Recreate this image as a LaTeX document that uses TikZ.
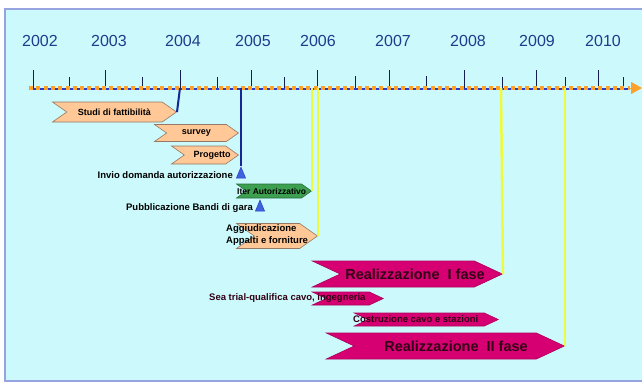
\documentclass[tikz,border=0pt]{standalone}
\usepackage{fontspec}
\setmainfont{Liberation Sans}
\usetikzlibrary{shapes.symbols,shapes.geometric,arrows.meta}

\definecolor{skyback}{RGB}{204,250,252}
\definecolor{frameblue}{RGB}{150,165,225}
\definecolor{yearblue}{RGB}{30,60,140}
\definecolor{tickblue}{RGB}{20,30,80}
\definecolor{axorange}{RGB}{255,160,40}
\definecolor{axblue}{RGB}{40,60,200}
\definecolor{barpeach}{RGB}{255,200,150}
\definecolor{peachedge}{RGB}{150,120,100}
\definecolor{bargreen}{RGB}{60,160,80}
\definecolor{greenedge}{RGB}{40,110,60}
\definecolor{barmagenta}{RGB}{215,0,115}
\definecolor{magentaedge}{RGB}{170,0,90}
\definecolor{textdark}{RGB}{50,0,20}
\definecolor{milestone}{RGB}{240,250,60}
\definecolor{linkblue}{RGB}{20,40,150}
\definecolor{triblue}{RGB}{60,100,220}

\tikzset{
  yearlbl/.style={text=yearblue, font=\fontsize{16}{19}\selectfont},
  tick/.style={tickblue, line width=1pt},
  bar/.style={signal, signal from=west, signal to=east, inner sep=0pt, anchor=east,
    font=\bfseries\fontsize{9}{10}\selectfont},
  peachbar/.style={bar, fill=barpeach, draw=peachedge, line width=0.6pt, signal pointer angle=70},
  greenbar/.style={bar, fill=bargreen, draw=greenedge, line width=0.6pt, signal pointer angle=70},
  pinkbar/.style={bar, fill=barmagenta, draw=magentaedge, line width=0.6pt, signal pointer angle=50,
    text=textdark},
  biglbl/.style={font=\bfseries\fontsize{14.5}{16}\selectfont, inner sep=0pt, text=textdark},
  lbl/.style={font=\bfseries\fontsize{9.5}{12}\selectfont, inner sep=0pt},
  smalllbl/.style={font=\bfseries\fontsize{9.5}{10}\selectfont, inner sep=0pt, text=textdark},
  tri/.style={isosceles triangle, shape border rotate=90, isosceles triangle apex angle=45,
    minimum height=11, inner sep=0pt, fill=triblue, draw=axblue, line width=0.5pt},
  yelline/.style={milestone, line width=2.5pt},
  blueline/.style={linkblue, line width=2pt},
}

\begin{document}
\begin{tikzpicture}[x=1pt, y=-1pt]
    \useasboundingbox (0,0) rectangle (642,383);

    % frame
    \fill[white] (0,0) rectangle (642,383);
    \draw[fill=skyback, draw=frameblue, line width=2pt] (5,9) rectangle (660,381);

    % years
    \foreach \yr/\x in {2002/40, 2003/109, 2004/183, 2005/253, 2006/318, 2007/393, 2008/468, 2009/537, 2010/603}
        \node[yearlbl] (y\yr) at (\x,41) {\yr};

    % ticks
    \foreach \x/\t in {33/70, 69/77, 105/70, 142/77, 180/70, 217/77, 251/70, 284/77, 317/70,
                       355/76, 389/70, 426/76, 464/70, 502/77, 536/70, 565/77, 598/70, 623/77}
        \draw[tick] (\x,\t) -- (\x,88);

    % time axis
    \coordinate (axL) at (29,88);
    \coordinate (axR) at (630,88);
    \coordinate (axEnd) at (642,88);
    \draw[axorange, line width=4pt, dash pattern=on 4pt off 3.3pt] (axL) -- (axR);
    \draw[axblue, line width=2pt, dash pattern=on 3.3pt off 4pt, dash phase=-4pt] ([yshift=-1pt]axL) -- ([yshift=-1pt]axR);
    \draw[axorange, line width=1pt, -{Triangle[length=11pt, width=12pt]}] (axR) -- (axEnd);

    % start points on the axis
    \coordinate (m2004) at (180,88);
    \coordinate (m2005) at (241,88);
    \coordinate (mIter) at (312,88);
    \coordinate (mAgg) at (318,88);
    \coordinate (mReal1) at (501,88);
    \coordinate (mReal2) at (565,88);

    % activities
    \node[peachbar, minimum width=124, minimum height=20] (studi) at (177,112) {Studi di fattibilità};
    \node[peachbar, minimum width=84, minimum height=17] (survey) at (239,133) {survey};
    \node[peachbar, minimum width=67, minimum height=18] (progetto) at (239,155) {};
    \node[lbl, font=\bfseries\fontsize{9}{10}\selectfont] (progettolbl) at (212,155) {Progetto};

    \node[lbl, anchor=east] (invio) at (233,175) {Invio domanda autorizzazione};
    \node[tri] (invioTri) at (241,175) {};

    \node[greenbar, minimum width=75, minimum height=14] (iter) at (312,191) {};
    \node[lbl, anchor=west, font=\bfseries\fontsize{8.5}{10}\selectfont] (iterlbl) at (237,191) {Iter Autorizzativo};

    \node[lbl, anchor=east] (pubbl) at (253,208) {Pubblicazione Bandi di gara};
    \node[tri] (pubblTri) at (260,208) {};

    \node[peachbar, minimum width=81, minimum height=25] (agg) at (318,236) {};
    \node[lbl, anchor=west, align=left] (agglbl) at (226,235) {Aggiudicazione\\Appalti e forniture};

    \node[pinkbar, minimum width=190, minimum height=26] (real1) at (503,274) {};
    \node[biglbl] (real1lbl) at (415,274) {Realizzazione\ \ I fase};
    \node[pinkbar, minimum width=71, minimum height=13] (sea) at (384,298.5) {};
    \node[smalllbl, anchor=west] (sealbl) at (209,298) {Sea trial-qualifica cavo, ingegneria};
    \node[pinkbar, minimum width=144, minimum height=13] (costr) at (499,319.5) {};
    \node[smalllbl, anchor=west] (costrlbl) at (353,319) {Costruzione cavo e stazioni};
    \node[pinkbar, minimum width=238, minimum height=26] (real2) at (565,346) {};
    \node[biglbl] (real2lbl) at (456,346) {Realizzazione\ \ II fase};

    % links to the axis
    \draw[blueline] (m2004) -- (studi.east);
    \draw[blueline] (m2005) -- (invioTri.apex);
    \draw[yelline] (mIter) -- (iter.east);
    \draw[yelline] (mAgg) -- (agg.east);
    \draw[yelline] (mReal1) -- (real1.east);
    \draw[yelline] (mReal2) -- (real2.east);
\end{tikzpicture}
\end{document}
